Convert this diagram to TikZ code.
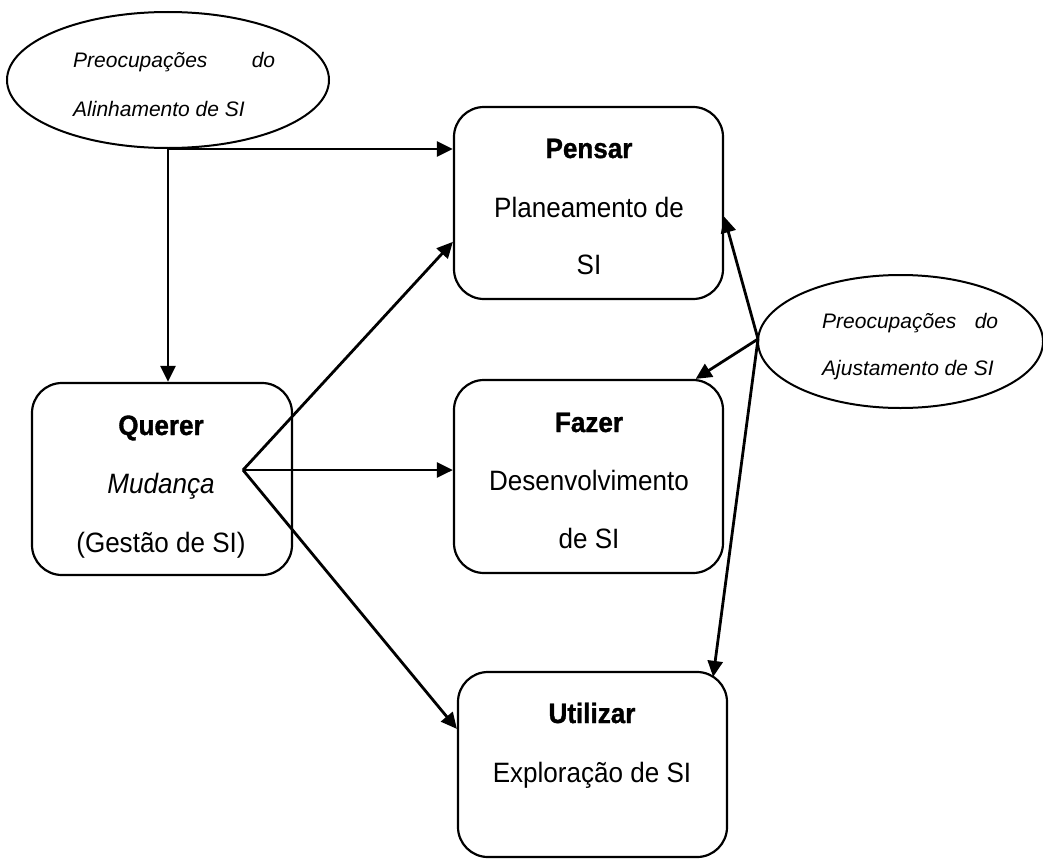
\documentclass[tikz,border=0pt]{standalone}
\usepackage{fontspec}
\setmainfont{Liberation Sans}
\newfontfamily\boxfont{Liberation Sans}[FakeStretch=0.93, BoldFeatures={FakeBold=1.2}]
\usetikzlibrary{shapes.geometric,arrows.meta,calc}
\begin{document}
\begin{tikzpicture}[x=1pt,y=-1pt,
  box/.style={draw, line width=2.2pt, rounded corners=30pt, inner sep=0pt},
  oval/.style={draw, ellipse, line width=2pt, inner sep=0pt},
  txt/.style={anchor=base, inner sep=0pt, font=\boxfont\fontsize{28}{32}\selectfont},
  ttl/.style={anchor=base, inner sep=0pt, font=\boxfont\fontsize{28}{32}\selectfont\bfseries},
  itx/.style={anchor=base west, inner sep=0pt, font=\fontsize{21}{25}\selectfont\itshape},
  link/.style={line width=2.8pt, -{Triangle[length=16pt,width=15pt]}},
]
\useasboundingbox (0,0) rectangle (1043,859);
\clip (0,0) rectangle (1043,859);

% concern ellipses
\node[oval, minimum width=322pt, minimum height=136pt] (align) at (168,80) {};
\node[oval, minimum width=285pt, minimum height=133pt] (adjust) at (900.5,341.5) {};
\node[itx] (alignA) at (73,67) {\makebox[202pt][l]{Preocupações\hfill do}};
\node[itx] (alignB) at (73,116) {Alinhamento de SI};
\node[itx] (adjustA) at (822,328) {\makebox[176pt][l]{Preocupações\hfill do}};
\node[itx] (adjustB) at (822,375) {Ajustamento de SI};

% activity boxes
\node[box, minimum width=269pt, minimum height=192pt] (pensar) at (588.5,203) {};
\node[box, minimum width=260pt, minimum height=192pt] (querer) at (162,479) {};
\node[box, minimum width=269pt, minimum height=193pt] (fazer) at (588.5,476.5) {};
\node[box, minimum width=269pt, minimum height=185pt] (utilizar) at (592.5,764.5) {};

% box texts
\node[ttl] (pensarT) at (589,158) {Pensar};
\node[txt] (pensarA) at (589,217) {Planeamento de};
\node[txt] (pensarB) at (589,274) {SI};
\node[ttl] (quererT) at (161,435) {Querer};
\node[txt, font=\boxfont\fontsize{28}{32}\selectfont\itshape] (quererA) at (161,493) {Mudança};
\node[txt] (quererB) at (161,552) {(Gestão de SI)};
\node[ttl] (fazerT) at (589,432) {Fazer};
\node[txt] (fazerA) at (589,490) {Desenvolvimento};
\node[txt] (fazerB) at (589,548) {de SI};
\node[ttl] (utilT) at (592,723) {Utilizar};
\node[txt] (utilA) at (592,782) {Exploração de SI};

% connectors from the alignment concerns
\draw[link] (align.south) -- (align.south -| pensar.west);
\draw[link] (align.south) -- (align.south |- querer.north);

% connectors fanning out of Querer
\coordinate (qf) at (243,470);
\draw[link] (qf) -- ($(pensar.south west)!0.3!(pensar.north west)$);
\draw[link] (qf) -- (qf -| fazer.west);
\draw[link] (qf) -- ($(utilizar.north west)!0.31!(utilizar.south west)$);

% connectors from the adjustment concerns
\coordinate (af) at (758,339);
\draw[link] (af) -- ($(pensar.north east)!0.57!(pensar.south east)$);
\draw[link] (af) -- ($(fazer.north)!0.79!(fazer.north east)$);
\draw[link] (af) -- ($(utilizar.north east)+(-15,6)$);
\end{tikzpicture}
\end{document}
